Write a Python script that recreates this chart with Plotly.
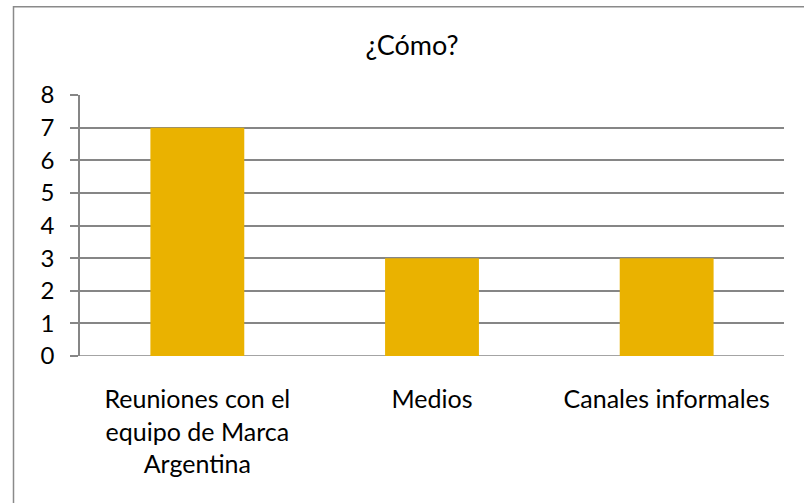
import plotly.graph_objects as go

# Chart data
categories = ["Reuniones con el<br>equipo de Marca<br>Argentina", "Medios", "Canales informales"]
values = [7, 3, 3]
y_ticks = [0, 1, 2, 3, 4, 5, 6, 7, 8]

W, H = 804, 503
L, R, T, B = 80, 20, 95, 146.5
pw, ph = W - L - R, H - T - B

def px_x(x):
    return (x - L) / pw

def px_y(y):
    return (H - B - y) / ph

FONT = "Lato"
GRID = "#868686"

fig = go.Figure(
    go.Bar(
        x=categories,
        y=values,
        marker=dict(color="#EAB200", line=dict(width=0)),
        hoverinfo="x+y",
    )
)

fig.update_layout(
    width=W,
    height=H,
    margin=dict(l=L, r=R, t=T, b=B),
    paper_bgcolor="white",
    plot_bgcolor="white",
    bargap=0.6,
    showlegend=False,
    font=dict(family=FONT, color="#000000"),
    title=dict(
        text="¿Cómo?",
        x=px_x(412), xref="paper", xanchor="center",
        y=1 - 46 / H, yref="container", yanchor="middle",
        font=dict(family=FONT, size=27, color="#000000"),
    ),
    xaxis=dict(
        showgrid=False,
        showline=False,
        ticks="",
        tickfont=dict(family=FONT, size=25, color="#000000"),
        ticklabelstandoff=26,
        range=[-0.5, 2.5],
    ),
    yaxis=dict(
        range=[0, 8],
        tickvals=y_ticks,
        showgrid=True,
        gridcolor=GRID,
        gridwidth=1.5,
        showline=True,
        linecolor=GRID,
        linewidth=1.5,
        ticks="outside",
        ticklen=8,
        tickcolor=GRID,
        tickwidth=1.5,
        tickfont=dict(family=FONT, size=24, color="#000000"),
        ticklabelstandoff=11,
        zeroline=False,
    ),
    shapes=[
        # baseline from the tick to the right end
        dict(type="line", xref="paper", yref="y", x0=px_x(72), x1=1, y0=0, y1=0,
             line=dict(color=GRID, width=1.5), layer="below"),
        # outer frame of the chart
        dict(type="rect", xref="paper", yref="paper",
             x0=px_x(13.5), x1=px_x(812), y0=px_y(6.5), y1=px_y(512),
             line=dict(color="#8a8a8a", width=1.5), fillcolor="rgba(0,0,0,0)"),
    ],
)

fig.write_html("out.html")
